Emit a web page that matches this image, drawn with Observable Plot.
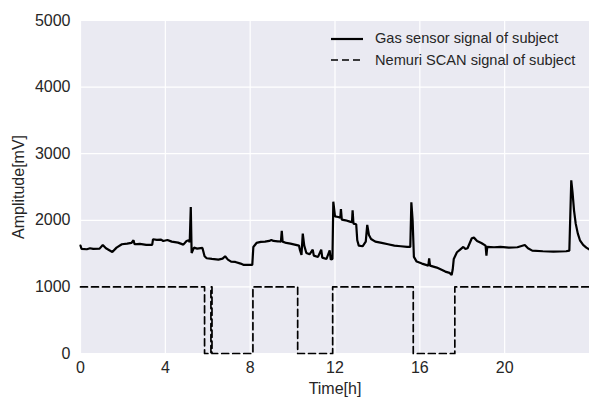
<!DOCTYPE html>
<html>
<head>
<meta charset="utf-8">
<script src="https://cdn.jsdelivr.net/npm/d3@7"></script>
<script src="https://cdn.jsdelivr.net/npm/@observablehq/plot@0.6"></script>
<style>
  html, body { margin: 0; padding: 0; background: #fff; }
  #wrap { position: relative; width: 589px; height: 403px; font-family: "Liberation Sans", Arial, sans-serif; }
  #legend { position: absolute; left: 331px; top: 28px; font-size: 14.6px; color: #262626; line-height: 21.5px; }
  #legend .row { display: flex; align-items: center; white-space: nowrap; }
  #legend svg { margin-right: 12px; }
</style>
</head>
<body>
<div id="wrap"></div>
<script>
// Gas sensor signal (time in hours, amplitude in mV)
const gasTime = [0.00,0.05,0.3,0.45,0.6,0.9,1.05,1.2,1.5,1.7,1.95,2.2,2.4,2.5,2.55,2.8,3.1,3.38,3.42,3.6,3.8,3.9,4.1,4.3,4.6,4.85,5.0,5.1,5.15,5.2,5.24,5.35,5.5,5.75,5.85,5.95,6.2,6.5,6.7,6.82,6.95,7.1,7.3,7.55,7.7,7.9,8.1,8.15,8.3,8.5,8.7,8.9,9.0,9.1,9.3,9.45,9.49,9.53,9.7,9.9,10.1,10.3,10.35,10.42,10.48,10.55,10.65,10.8,10.95,11.0,11.2,11.35,11.4,11.6,11.75,11.8,11.88,11.92,12.0,12.15,12.25,12.28,12.32,12.5,12.7,12.8,12.83,12.87,13.0,13.05,13.12,13.3,13.45,13.52,13.6,13.7,13.9,14.2,14.5,14.8,15.1,15.4,15.55,15.6,15.66,15.72,15.85,16.1,16.4,16.44,16.48,16.8,17.0,17.2,17.4,17.5,17.55,17.6,17.75,17.9,18.05,18.15,18.25,18.45,18.55,18.7,18.9,19.1,19.14,19.18,19.5,19.8,20.2,20.6,20.95,21.1,21.3,21.8,22.3,22.9,23.05,23.14,23.2,23.27,23.35,23.45,23.55,23.7,23.85,24.0];
const gasValue = [1620,1570,1565,1580,1570,1575,1630,1580,1525,1590,1640,1650,1660,1700,1640,1645,1630,1630,1715,1705,1710,1690,1705,1680,1665,1635,1690,1700,1670,2200,1510,1590,1575,1585,1460,1430,1420,1410,1425,1460,1410,1380,1375,1350,1330,1330,1330,1600,1660,1675,1680,1690,1705,1690,1685,1680,1840,1680,1660,1650,1635,1620,1550,1480,1800,1620,1510,1490,1560,1470,1450,1560,1440,1420,1550,1410,1420,2280,2060,2050,2040,2170,2010,2000,1980,1970,2150,1950,1940,1700,1620,1610,1680,1930,1780,1720,1680,1660,1640,1620,1610,1600,1600,2270,2000,1450,1380,1350,1320,1430,1320,1290,1260,1230,1210,1180,1260,1420,1520,1560,1600,1570,1580,1730,1740,1690,1660,1620,1470,1600,1595,1600,1590,1595,1630,1580,1545,1535,1530,1535,1545,2600,2420,2150,1950,1800,1700,1630,1590,1560];

// Nemuri SCAN signal (step: time in hours, amplitude in mV)
const scanTime  = [0, 5.85, 5.85, 6.15, 6.15, 6.2, 6.2, 8.13, 8.13, 10.24, 10.24, 11.89, 11.89, 15.69, 15.69, 17.65, 17.65, 24];
const scanValue = [1000, 1000, 0, 0, 1000, 1000, 0, 0, 1000, 1000, 0, 0, 1000, 1000, 0, 0, 1000, 1000];

const xTicks = [0, 4, 8, 12, 16, 20];
const yTicks = [0, 1000, 2000, 3000, 4000, 5000];
const seriesNames = ["Gas sensor signal of subject", "Nemuri SCAN signal of subject"];

const gas = gasTime.map((t, i) => ({t, v: gasValue[i]}));
const scan = scanTime.map((t, i) => ({t, v: scanValue[i]}));

const chart = Plot.plot({
  width: 589,
  height: 403,
  marginLeft: 80,
  marginRight: 0,
  marginTop: 20,
  marginBottom: 50,
  style: {fontFamily: "'Liberation Sans', Arial, sans-serif", fontSize: "16px", color: "#262626", background: "transparent"},
  x: {domain: [0, 24], ticks: xTicks},
  y: {domain: [0, 5000], ticks: yTicks},
  marks: [
    Plot.frame({fill: "#EAEAF2", stroke: null}),
    Plot.gridX(xTicks, {stroke: "#fff", strokeOpacity: 1, strokeWidth: 1.2}),
    Plot.gridY(yTicks, {stroke: "#fff", strokeOpacity: 1, strokeWidth: 1.2}),
    Plot.axisX(xTicks, {tickSize: 0, tickPadding: 8, fontSize: 16, tickFormat: d3.format("d"), label: "Time[h]", labelAnchor: "center", labelArrow: "none", labelOffset: 40}),
    Plot.axisY(yTicks, {tickSize: 0, tickPadding: 10, fontSize: 16, tickFormat: d3.format("d"), label: "Amplitude[mV]", labelAnchor: "center", labelArrow: "none", labelOffset: 68}),
    Plot.line(scan, {x: "t", y: "v", stroke: "#000", strokeWidth: 1.7, strokeDasharray: "7,4"}),
    Plot.line(gas, {x: "t", y: "v", stroke: "#000", strokeWidth: 2.2, strokeLinejoin: "miter"})
  ]
});

const wrap = document.getElementById("wrap");
wrap.appendChild(chart);

const legend = document.createElement("div");
legend.id = "legend";
const dashes = [null, "7,4"];
seriesNames.forEach((name, i) => {
  const row = document.createElement("div");
  row.className = "row";
  row.innerHTML = `<svg width="32" height="10"><line x1="0" x2="32" y1="5" y2="5" stroke="#000" stroke-width="${i ? 1.7 : 2.2}" ${dashes[i] ? `stroke-dasharray="${dashes[i]}"` : ""}/></svg><span>${name}</span>`;
  legend.appendChild(row);
});
wrap.appendChild(legend);
</script>
</body>
</html>
